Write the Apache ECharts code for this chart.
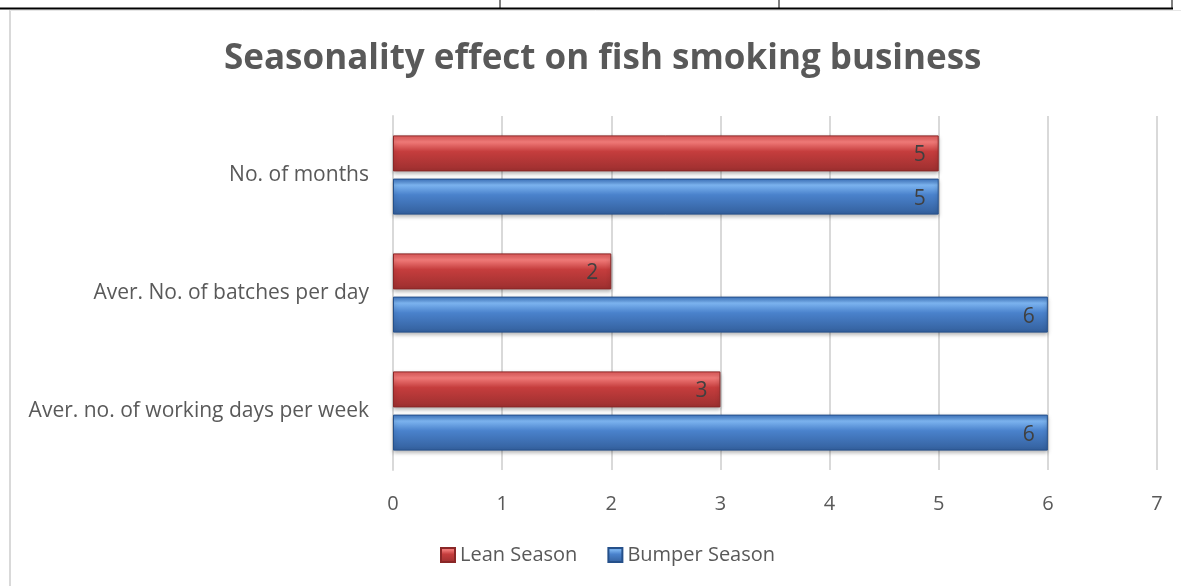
<!DOCTYPE html>
<html><head><meta charset="utf-8">
<script src="https://cdn.jsdelivr.net/npm/echarts@6/dist/echarts.min.js"></script>
<style>html,body{margin:0;padding:0;background:#fff}#c{width:1181px;height:586px}</style>
</head><body><div id="c"></div>
<script>
const categories = ['Aver. no. of working days per week', 'Aver. No. of batches per day', 'No. of months'];
const leanSeason = [3, 2, 5];
const bumperSeason = [6, 6, 5];
const xTicks = [0, 1, 2, 3, 4, 5, 6, 7];

const chart = echarts.init(document.getElementById('c'), null, {renderer: 'canvas'});
function grad(top, hi, mid, bot) {
  return new echarts.graphic.LinearGradient(0, 0, 0, 1, [
    {offset: 0, color: top}, {offset: 0.18, color: hi}, {offset: 0.45, color: mid}, {offset: 1, color: bot}
  ]);
}
const redFill = grad('#e25a5a', '#f07a78', '#c53d3d', '#9c2f2f');
const blueFill = grad('#3d74c0', '#7cb4f0', '#4a82cc', '#335f9c');
const labelStyle = {show: true, position: 'insideRight', color: '#404040', fontSize: 21, fontFamily: 'Open Sans', distance: 13, offset: [0, 2]};
chart.setOption({
  animation: false,
  title: {text: 'Seasonality effect on fish smoking business', left: 219, top: 37,
    textStyle: {fontFamily: 'Open Sans', fontWeight: 'bold', fontSize: 35, color: '#595959'}},
  legend: {data: ['Lean Season', 'Bumper Season'], bottom: 16, left: 435, itemWidth: 14, itemHeight: 14, itemGap: 30,
    icon: 'rect', textStyle: {fontFamily: 'Open Sans', fontSize: 20, color: '#595959'}},
  grid: {left: 393, right: 24, top: 116, bottom: 116},
  xAxis: {type: 'value', min: xTicks[0], max: xTicks[xTicks.length - 1], interval: 1,
    axisLine: {show: false}, axisTick: {show: false},
    splitLine: {lineStyle: {color: '#d9d9d9', width: 2}},
    axisLabel: {color: '#595959', fontSize: 20, fontFamily: 'Open Sans', margin: 24}},
  yAxis: {type: 'category', data: categories,
    axisLine: {show: true, lineStyle: {color: '#d9d9d9', width: 2}}, axisTick: {show: false},
    axisLabel: {color: '#595959', fontSize: 21, fontFamily: 'Open Sans', margin: 24}},
  series: [
    {name: 'Lean Season', type: 'bar', data: leanSeason, barWidth: 36, barGap: '20%',
      itemStyle: {color: redFill, borderColor: '#8a2727', borderWidth: 1, shadowColor: 'rgba(0,0,0,0.3)', shadowBlur: 4, shadowOffsetY: 2},
      label: labelStyle},
    {name: 'Bumper Season', type: 'bar', data: bumperSeason, barWidth: 36,
      itemStyle: {color: blueFill, borderColor: '#25508a', borderWidth: 1, shadowColor: 'rgba(0,0,0,0.3)', shadowBlur: 4, shadowOffsetY: 2},
      label: labelStyle}
  ],
  graphic: [
    {type: 'line', shape: {x1: 0, y1: 8.5, x2: 1173, y2: 8.5}, style: {stroke: '#000', lineWidth: 2}},
    {type: 'line', shape: {x1: 500, y1: 0, x2: 500, y2: 8}, style: {stroke: '#000', lineWidth: 1}},
    {type: 'line', shape: {x1: 779, y1: 0, x2: 779, y2: 8}, style: {stroke: '#000', lineWidth: 1}},
    {type: 'line', shape: {x1: 1172, y1: 0, x2: 1172, y2: 8}, style: {stroke: '#000', lineWidth: 1}},
    {type: 'line', shape: {x1: 10, y1: 10, x2: 10, y2: 586}, style: {stroke: '#d9d9d9', lineWidth: 2}},
    {type: 'line', shape: {x1: 10, y1: 10.5, x2: 1181, y2: 10.5}, style: {stroke: '#e6e6e6', lineWidth: 1}}
  ]
});
</script></body></html>
